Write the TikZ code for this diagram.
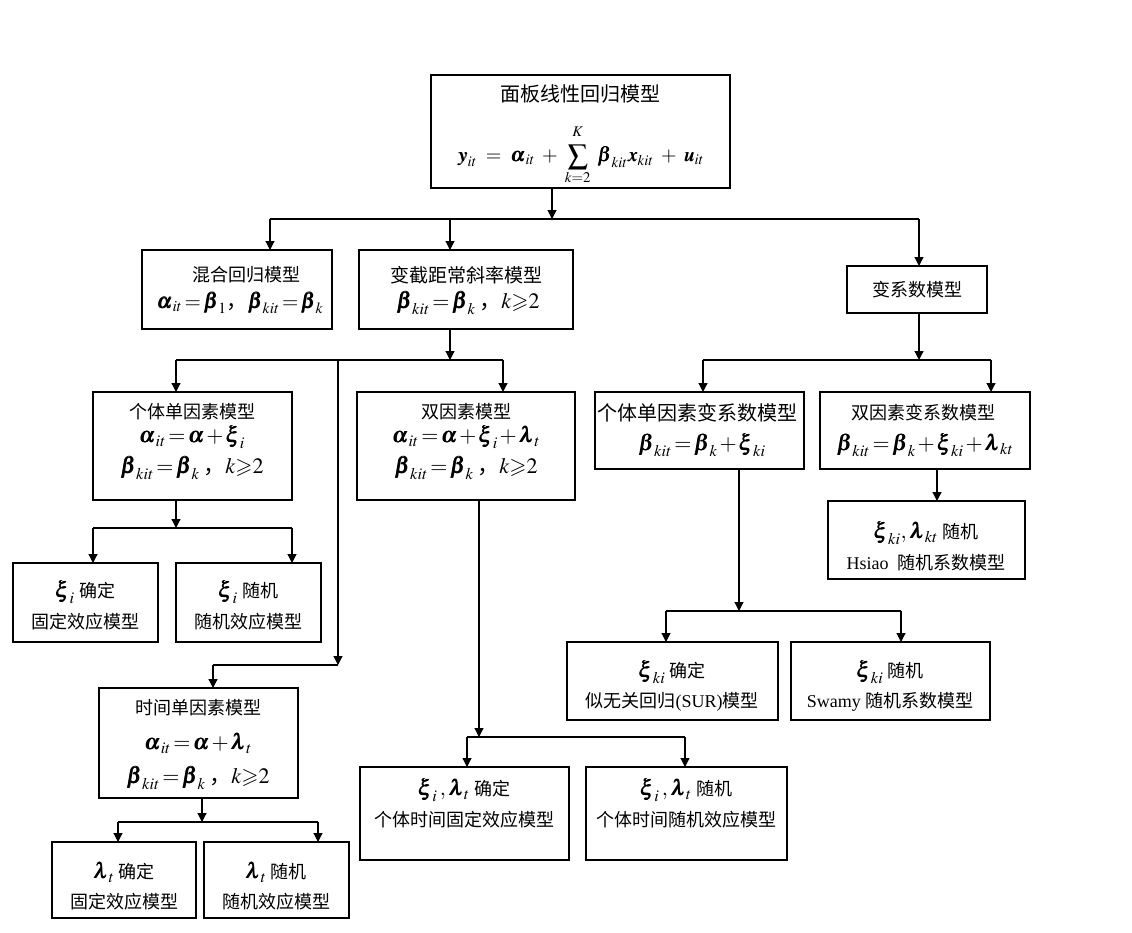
\documentclass[tikz,border=0pt]{standalone}
\usepackage{amsmath,amssymb}
\usepackage{mathptmx}
\usepackage{bm}
\usepackage{fontspec}
\setmainfont{Liberation Serif}
\newfontfamily\cjk{Noto Sans CJK SC}
\usetikzlibrary{arrows.meta}

\newcommand\zh[1]{{\cjk #1}}
% box from corner (x1,y1) to (x2,y2), y measured downward
\newcommand\bx[5]{\node[box, minimum width={(#4-#2)*1pt}, minimum height={(#5-#3)*1pt}] (#1) at ({(#2+#4)/2},{(#3+#5)/2}) {};}
% one line of text inside a box
\newcommand\tx[5][txt]{\node[#1] (#2) at (#3,#4) {#5};}
\newcommand\kge{k{\geqslant}2}
% tighter spacing round = and +
\newcommand\tightops{\thickmuskip=2mu\relax\medmuskip=1.5mu\relax}

\tikzset{
  box/.style={draw, line width=1.3pt, inner sep=0pt, outer sep=0pt},
  txt/.style={inner sep=0pt, font=\fontsize{18}{20}\selectfont},
  ttl/.style={inner sep=0pt, font=\fontsize{20}{22}\selectfont},
  mth/.style={inner sep=0pt, font=\fontsize{22}{24}\selectfont\tightops},
  arr/.style={line width=1.2pt, -{Triangle[width=9pt,length=9pt]}},
  ln/.style={line width=1.2pt},
}

\begin{document}
\begin{tikzpicture}[x=1pt,y=-1pt]
\useasboundingbox (0,0) rectangle (1132,932);

% ---- boxes ----
\bx{top}{431}{75}{730}{188}
\bx{mixed}{142}{250}{332}{329}
\bx{varint}{359}{250}{573}{329}
\bx{varcoef}{847}{266}{987}{313}
\bx{ind}{93}{392}{292}{500}
\bx{two}{357}{392}{575}{500}
\bx{indvc}{595}{392}{804}{469}
\bx{twovc}{820}{392}{1030}{469}
\bx{hsiao}{828}{501}{1025}{579}
\bx{xifix}{13}{563}{158}{642}
\bx{xirnd}{176}{563}{321}{642}
\bx{time}{99}{688}{298}{798}
\bx{lamfix}{52}{842}{196}{918}
\bx{lamrnd}{204}{842}{349}{918}
\bx{bfix}{360}{767}{569}{860}
\bx{brnd}{586}{767}{787}{860}
\bx{sur}{567}{642}{778}{720}
\bx{swamy}{791}{642}{990}{720}

% ---- texts ----
\tx[ttl]{top-a}{580}{94}{\zh{面板线性回归模型}}
\tx[txt]{top-b}{581}{155}{\fontsize{20}{22}\selectfont
  $\bm{y}_{it}\;=\;\bm{\alpha}_{it}\;+\;\displaystyle\sum_{k=2}^{\raisebox{4pt}{$\scriptstyle K$}}\;\bm{\beta}_{kit}\bm{x}_{kit}\;+\;\bm{u}_{it}$}

\tx[txt]{mixed-a}{246}{275}{\zh{混合回归模型}}
\tx[mth]{mixed-b}{240}{303}{\fontsize{21}{23}\selectfont$\bm{\alpha}_{it}=\bm{\beta}_1$\zh{，}$\bm{\beta}_{kit}=\bm{\beta}_k$}

\tx[txt]{varint-a}{466}{275}{\fontsize{19}{21}\selectfont\zh{变截距常斜率模型}}
\tx[mth]{varint-b}{468}{303}{$\bm{\beta}_{kit}=\bm{\beta}_k$\,\zh{，}$\kge$}

\tx[txt]{varcoef-a}{917}{290}{\zh{变系数模型}}

\tx[txt]{ind-a}{192}{412}{\zh{个体单因素模型}}
\tx[mth]{ind-b}{192}{437}{$\bm{\alpha}_{it}=\bm{\alpha}+\bm{\xi}_i$}
\tx[mth]{ind-c}{192}{468}{$\bm{\beta}_{kit}=\bm{\beta}_k$\,\zh{，}$\kge$}

\tx[txt]{two-a}{466}{412}{\zh{双因素模型}}
\tx[mth]{two-b}{466}{437}{$\bm{\alpha}_{it}=\bm{\alpha}+\bm{\xi}_i+\bm{\lambda}_t$}
\tx[mth]{two-c}{466}{468}{$\bm{\beta}_{kit}=\bm{\beta}_k$\,\zh{，}$\kge$}

\tx[ttl]{indvc-a}{697}{413}{\zh{个体单因素变系数模型}}
\tx[mth]{indvc-b}{702}{445}{$\bm{\beta}_{kit}=\bm{\beta}_k+\bm{\xi}_{ki}$}

\tx[txt]{twovc-a}{923}{413}{\zh{双因素变系数模型}}
\tx[mth]{twovc-b}{925}{445}{$\bm{\beta}_{kit}=\bm{\beta}_k+\bm{\xi}_{ki}+\bm{\lambda}_{kt}$}

\tx[txt]{hsiao-a}{926}{533}{{\fontsize{22}{24}\selectfont$\bm{\xi}_{ki},\bm{\lambda}_{kt}$}\ \zh{随机}}
\tx[txt]{hsiao-b}{926}{563}{Hsiao\ \ \zh{随机系数模型}}

\tx[txt]{xifix-a}{85}{592}{{\fontsize{22}{24}\selectfont$\bm{\xi}_i$}\ \zh{确定}}
\tx[txt]{xifix-b}{85}{622}{\zh{固定效应模型}}
\tx[txt]{xirnd-a}{248}{592}{{\fontsize{22}{24}\selectfont$\bm{\xi}_i$}\ \zh{随机}}
\tx[txt]{xirnd-b}{248}{622}{\zh{随机效应模型}}

\tx[txt]{time-a}{198}{708}{\zh{时间单因素模型}}
\tx[mth]{time-b}{198}{743}{$\bm{\alpha}_{it}=\bm{\alpha}+\bm{\lambda}_t$}
\tx[mth]{time-c}{198}{778}{$\bm{\beta}_{kit}=\bm{\beta}_k$\,\zh{，}$\kge$}

\tx[txt]{lamfix-a}{124}{872}{{\fontsize{22}{24}\selectfont$\bm{\lambda}_t$}\ \zh{确定}}
\tx[txt]{lamfix-b}{124}{902}{\zh{固定效应模型}}
\tx[txt]{lamrnd-a}{276}{872}{{\fontsize{22}{24}\selectfont$\bm{\lambda}_t$}\ \zh{随机}}
\tx[txt]{lamrnd-b}{276}{902}{\zh{随机效应模型}}

\tx[txt]{bfix-a}{464}{790}{{\fontsize{22}{24}\selectfont$\bm{\xi}_i\,,\bm{\lambda}_t$}\ \zh{确定}}
\tx[txt]{bfix-b}{464}{820}{\zh{个体时间固定效应模型}}
\tx[txt]{brnd-a}{686}{790}{{\fontsize{22}{24}\selectfont$\bm{\xi}_i\,,\bm{\lambda}_t$}\ \zh{随机}}
\tx[txt]{brnd-b}{686}{820}{\zh{个体时间随机效应模型}}

\tx[txt]{sur-a}{672}{672}{{\fontsize{22}{24}\selectfont$\bm{\xi}_{ki}$}\ \zh{确定}}
\tx[txt]{sur-b}{672}{702}{\zh{似无关回归}(SUR)\zh{模型}}
\tx[txt]{swamy-a}{890}{672}{{\fontsize{22}{24}\selectfont$\bm{\xi}_{ki}$}\ \zh{随机}}
\tx[txt]{swamy-b}{890}{702}{Swamy\ \zh{随机系数模型}}

% ---- junction points of the connectors ----
\coordinate (j0)  at (552,219);
\coordinate (j0L) at (270,219);
\coordinate (j0M) at (450,219);
\coordinate (j0R) at (919,219);

\coordinate (j1)  at (450,360);
\coordinate (j1L) at (176,360);
\coordinate (j1M) at (338,360);
\coordinate (j1R) at (503,360);
\coordinate (j2)  at (338,665);
\coordinate (j2L) at (213,665);

\coordinate (j3)  at (176,528);
\coordinate (j3L) at (93,528);
\coordinate (j3R) at (292,528);

\coordinate (j4)  at (479,737);
\coordinate (j4L) at (467,737);
\coordinate (j4R) at (685,737);

\coordinate (j5)  at (919,360);
\coordinate (j5L) at (703,360);
\coordinate (j5R) at (991,360);

\coordinate (j6)  at (739,611);
\coordinate (j6L) at (666,611);
\coordinate (j6R) at (901,611);

\coordinate (j7)  at (937,480);

\coordinate (j8)  at (202,822);
\coordinate (j8L) at (118,822);
\coordinate (j8R) at (318,822);

% ---- connectors ----
\draw[arr] (j0 |- top.south) -- (j0);
\draw[ln] (j0L) -- (j0R);
\draw[arr] (j0L) -- (j0L |- mixed.north);
\draw[arr] (j0M) -- (j0M |- varint.north);
\draw[arr] (j0R) -- (j0R |- varcoef.north);

\draw[arr] (j1 |- varint.south) -- (j1);
\draw[ln] (j1L) -- (j1R);
\draw[arr] (j1L) -- (j1L |- ind.north);
\draw[arr] (j1R) -- (j1R |- two.north);
\draw[arr] (j1M) -- (j2);
\draw[ln] (j2) -- (j2L);
\draw[arr] (j2L) -- (j2L |- time.north);

\draw[arr] (j3 |- ind.south) -- (j3);
\draw[ln] (j3L) -- (j3R);
\draw[arr] (j3L) -- (j3L |- xifix.north);
\draw[arr] (j3R) -- (j3R |- xirnd.north);

\draw[arr] (j4 |- two.south) -- (j4);
\draw[ln] (j4L) -- (j4R);
\draw[arr] (j4L) -- (j4L |- bfix.north);
\draw[arr] (j4R) -- (j4R |- brnd.north);

\draw[arr] (j5 |- varcoef.south) -- (j5);
\draw[ln] (j5L) -- (j5R);
\draw[arr] (j5L) -- (j5L |- indvc.north);
\draw[arr] (j5R) -- (j5R |- twovc.north);

\draw[arr] (j6 |- indvc.south) -- (j6);
\draw[ln] (j6L) -- (j6R);
\draw[arr] (j6L) -- (j6L |- sur.north);
\draw[arr] (j6R) -- (j6R |- swamy.north);

\draw[arr] (j7 |- twovc.south) -- (j7 |- hsiao.north);

\draw[arr] (j8 |- time.south) -- (j8);
\draw[ln] (j8L) -- (j8R);
\draw[arr] (j8L) -- (j8L |- lamfix.north);
\draw[arr] (j8R) -- (j8R |- lamrnd.north);
\end{tikzpicture}
\end{document}
